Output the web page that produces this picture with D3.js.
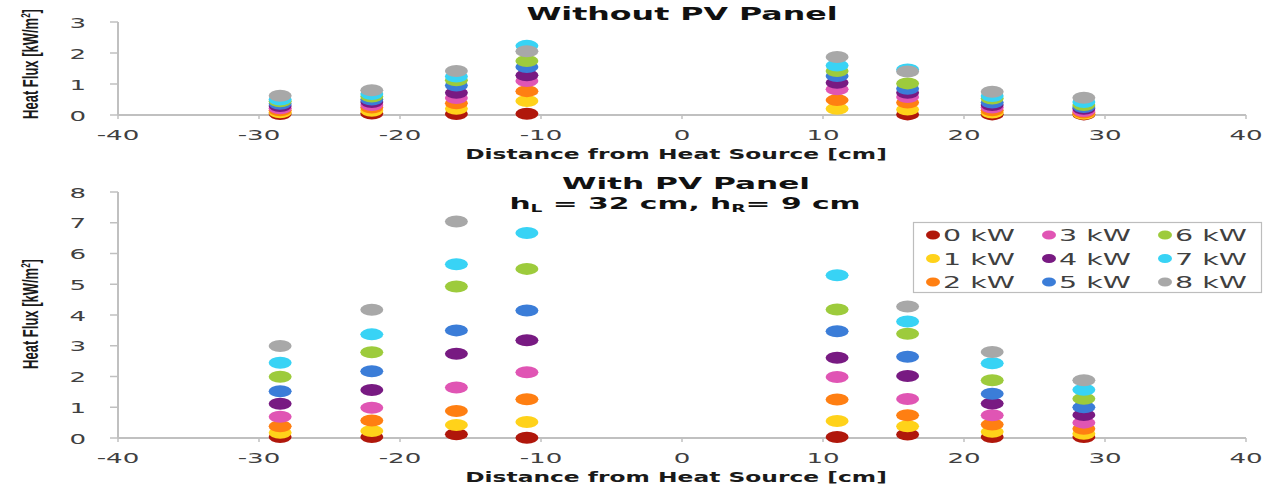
<!DOCTYPE html>
<html><head><meta charset="utf-8">
<script src="https://cdn.jsdelivr.net/npm/d3@7"></script>
<style>
html,body{margin:0;padding:0;background:#fff;}
svg{display:block;}
text{font-family:"DejaVu Sans",sans-serif;}
</style></head>
<body>
<script>
// ---- Data ----
const xPositions = [-28.5, -22, -16, -11, 11, 16, 22, 28.5];
const seriesNames = ["0 kW","1 kW","2 kW","3 kW","4 kW","5 kW","6 kW","7 kW","8 kW"];
const seriesColors = ["#b0170b","#ffd21a","#ff7f12","#e055b4","#781a82","#3b7dd8","#9dcb3c","#38d3f5","#a8a8a8"];
// Without PV panel
const topS0 = [0.03, 0.05, 0.03, 0.04, null, 0.02, 0.02, 0.02];
const topS1 = [0.09, 0.14, 0.20, 0.45, 0.20, 0.18, 0.08, 0.04];
const topS2 = [0.15, 0.24, 0.38, 0.77, 0.48, 0.40, 0.15, 0.08];
const topS3 = [0.22, 0.32, 0.55, 1.10, 0.83, 0.58, 0.24, 0.13];
const topS4 = [0.29, 0.42, 0.72, 1.28, 1.04, 0.72, 0.32, 0.20];
const topS5 = [0.36, 0.50, 0.95, 1.55, 1.26, 0.85, 0.40, 0.26];
const topS6 = [0.44, 0.60, 1.12, 1.74, 1.42, 1.02, 0.53, 0.32];
const topS7 = [0.50, 0.68, 1.24, 2.23, 1.60, 1.47, 0.61, 0.42];
const topS8 = [0.62, 0.80, 1.42, 2.06, 1.87, 1.40, 0.75, 0.56];
// With PV panel
const botS0 = [0.03, 0.03, 0.12, 0.01, 0.03, 0.11, 0.03, 0.03];
const botS1 = [0.17, 0.23, 0.42, 0.52, 0.55, 0.38, 0.20, 0.14];
const botS2 = [0.38, 0.57, 0.88, 1.26, 1.25, 0.74, 0.44, 0.30];
const botS3 = [0.69, 0.98, 1.64, 2.14, 1.98, 1.27, 0.74, 0.50];
const botS4 = [1.11, 1.56, 2.74, 3.18, 2.61, 2.02, 1.12, 0.75];
const botS5 = [1.52, 2.17, 3.50, 4.15, 3.47, 2.64, 1.44, 1.00];
const botS6 = [1.99, 2.79, 4.93, 5.50, 4.18, 3.39, 1.88, 1.28];
const botS7 = [2.45, 3.37, 5.65, 6.67, 5.29, 3.79, 2.43, 1.57];
const botS8 = [2.99, 4.17, 7.04, null, null, 4.28, 2.80, 1.88];
const xTicks = [-40,-30,-20,-10,0,10,20,30,40];
const topYTicks = [0,1,2,3];
const botYTicks = [0,1,2,3,4,5,6,7,8];

const topSeries = [topS0,topS1,topS2,topS3,topS4,topS5,topS6,topS7,topS8];
const botSeries = [botS0,botS1,botS2,botS3,botS4,botS5,botS6,botS7,botS8];

// ---- Layout ----
const W = 1266, H = 486;
const svg = d3.select("body").append("svg").attr("width", W).attr("height", H);

const x = d3.scaleLinear().domain([-40, 40]).range([118, 1246]);

function txt(g, xp, yp, s, opts) {
  const t = g.append("text")
    .attr("transform", `translate(${xp},${yp}) scale(${opts.sx || 1.5},1)` + (opts.rot ? ` rotate(${opts.rot})` : ""))
    .attr("text-anchor", opts.anchor || "middle")
    .attr("font-size", opts.size || 14)
    .attr("font-weight", opts.weight || "normal")
    .attr("fill", opts.fill || "#404040");
  if (opts.family) t.style("font-family", opts.family);
  if (s !== null) t.text(s);
  return t;
}

function panel(series, yDomain, yRange, yTicks, titleLines, ylabelY) {
  const y = d3.scaleLinear().domain(yDomain).range(yRange);
  const g = svg.append("g");
  const axisColor = "#c0c0c0";
  g.append("line").attr("x1", x(-40)).attr("x2", x(40)).attr("y1", y(0)).attr("y2", y(0))
    .attr("stroke", axisColor).attr("stroke-width", 2);
  g.append("line").attr("x1", x(-40)).attr("x2", x(-40)).attr("y1", y(0)).attr("y2", y(yDomain[1]))
    .attr("stroke", axisColor).attr("stroke-width", 2);
  xTicks.forEach(t => {
    g.append("line").attr("x1", x(t)).attr("x2", x(t)).attr("y1", y(0)).attr("y2", y(0) + 4)
      .attr("stroke", axisColor).attr("stroke-width", 1.5);
    txt(g, x(t), y(0) + 25, (t < 0 ? "-" : "") + Math.abs(t), {size: 14.5, sx: 1.8});
  });
  yTicks.forEach(t => {
    g.append("line").attr("x1", x(-40) - 8).attr("x2", x(-40)).attr("y1", y(t)).attr("y2", y(t))
      .attr("stroke", axisColor).attr("stroke-width", 1.5);
    txt(g, 86, y(t) + 5.5, String(t), {size: 14.5, anchor: "end", sx: 1.8});
  });
  const yl = txt(g, 38, ylabelY, null, {size: 13, rot: -90, weight: "bold", fill: "#1a1a1a", family: "'Liberation Sans Narrow','Liberation Sans',sans-serif", sx: 1.7});
  yl.append("tspan").text("Heat Flux [kW/m");
  yl.append("tspan").attr("font-size", 8).attr("dy", -5).text("2");
  yl.append("tspan").attr("dy", 5).text("]");
  txt(g, 676, y(0) + 44, "Distance from Heat Source [cm]", {size: 14, weight: "bold", fill: "#1a1a1a", sx: 1.67});
  titleLines.forEach(tl => {
    const t = txt(g, tl.x, tl.y, null, {size: tl.size, weight: "bold", fill: "#111", sx: tl.sx});
    tl.parts.forEach(p => {
      const ts = t.append("tspan").text(p.t);
      if (p.sub) ts.attr("font-size", 10).attr("dy", 2.5);
      if (p.unsub) ts.attr("dy", -2.5);
    });
  });
  series.forEach((vals, si) => {
    const pts = vals.map((v, i) => ({x: xPositions[i], v})).filter(d => d.v !== null);
    g.append("g").selectAll("ellipse").data(pts).join("ellipse")
      .attr("cx", d => x(d.x)).attr("cy", d => y(d.v))
      .attr("rx", 11.5).attr("ry", 6)
      .attr("fill", seriesColors[si]);
  });
  return y;
}

panel(topSeries, [0, 3], [115, 22], topYTicks,
  [{x: 682, y: 20, size: 18, sx: 1.76, parts: [{t: "Without PV Panel"}]}], 64);
panel(botSeries, [0, 8], [438, 192], botYTicks,
  [{x: 686, y: 189, size: 16, sx: 1.95, parts: [{t: "With PV Panel"}]},
   {x: 685, y: 209, size: 16, sx: 1.86, parts: [{t: "h"}, {t: "L", sub: true}, {t: " = 32 cm, h", unsub: true}, {t: "R", sub: true}, {t: "= 9 cm", unsub: true}]}], 314);

// legend
const lg = svg.append("g");
lg.append("rect").attr("x", 913.5).attr("y", 222.5).attr("width", 348).attr("height", 70)
  .attr("fill", "#fff").attr("stroke", "#bdbdbd").attr("stroke-width", 1.2);
seriesNames.forEach((name, i) => {
  const col = Math.floor(i / 3), row = i % 3;
  const cx = 933 + col * 116, cy = 235 + row * 23.5;
  lg.append("ellipse").attr("cx", cx).attr("cy", cy).attr("rx", 7).attr("ry", 4.5).attr("fill", seriesColors[i]);
  txt(lg, cx + 10, cy + 6, name, {size: 15, anchor: "start", fill: "#404040", sx: 1.9});
});
</script>
</body></html>
